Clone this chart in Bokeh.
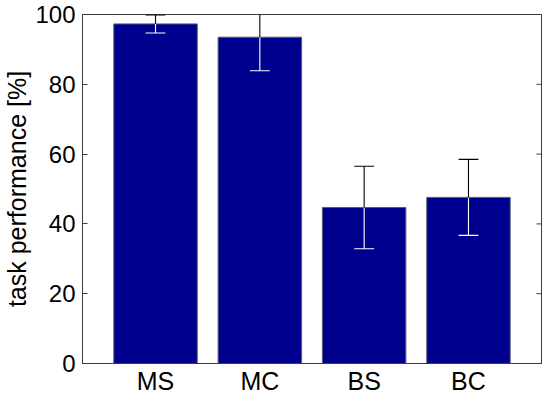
import math
from bokeh.plotting import figure
from bokeh.models import Range1d, FixedTicker
from bokeh.embed import file_html
from bokeh.resources import INLINE

categories = ["MS", "MC", "BS", "BC"]
means = [97.3, 93.5, 44.7, 47.6]
errors = [2.6, 9.6, 11.8, 10.9]
y_ticks = [0, 20, 40, 60, 80, 100]

xs = [i + 1 for i in range(len(categories))]
cap = 0.095
bar_width = 0.8
x_lo, x_hi = 0.3, 4.7

FONT = "Liberation Sans"
AX = "#3c3c3c"

p = figure(frame_width=459, frame_height=349, output_backend="svg", toolbar_location=None,
           x_range=Range1d(x_lo, x_hi), y_range=Range1d(0, 100),
           min_border_left=80, min_border_right=1, min_border_top=14, min_border_bottom=0)
p.xgrid.visible = False
p.ygrid.visible = False
p.outline_line_color = AX
p.outline_line_width = 1
p.background_fill_color = "white"
p.border_fill_color = "white"

p.vbar(x=xs, top=means, bottom=0, width=bar_width, fill_color="#00008F",
       line_color="#5a5a6e", line_width=1)

lo = [m - e for m, e in zip(means, errors)]
hi = [m + e for m, e in zip(means, errors)]
# lower part (inside bar) white, upper part black
p.segment(x0=xs, y0=lo, x1=xs, y1=means, line_color="white", line_width=1.1)
p.segment(x0=[x - cap for x in xs], y0=lo, x1=[x + cap for x in xs], y1=lo,
          line_color="white", line_width=1.1)
p.segment(x0=xs, y0=means, x1=xs, y1=hi, line_color="black", line_width=1.1)
p.segment(x0=[x - cap for x in xs], y0=hi, x1=[x + cap for x in xs], y1=hi,
          line_color="black", line_width=1.1)

# mirrored inward ticks on the right edge
p.ray(x=[x_hi] * len(y_ticks), y=y_ticks, length=5, length_units="screen",
      angle=math.pi, line_color=AX, line_width=1)

# x axis
p.xaxis.ticker = FixedTicker(ticks=xs)
p.xaxis.major_label_overrides = {x: c for x, c in zip(xs, categories)}
p.xaxis.major_tick_in = 0
p.xaxis.major_tick_out = 0
p.xaxis.minor_tick_line_color = None
p.xaxis.axis_line_color = AX
p.xaxis.major_label_text_font = FONT
p.xaxis.major_label_text_font_size = "25px"
p.xaxis.major_label_text_color = "black"
p.xaxis.major_label_standoff = 3

# y axis
p.yaxis.ticker = FixedTicker(ticks=y_ticks)
p.yaxis.major_tick_in = 5
p.yaxis.major_tick_out = 0
p.yaxis.minor_tick_line_color = None
p.yaxis.axis_line_color = AX
p.yaxis.major_tick_line_color = AX
p.yaxis.major_label_text_font = FONT
p.yaxis.major_label_text_font_size = "24px"
p.yaxis.major_label_text_color = "black"
p.yaxis.major_label_standoff = 7
p.yaxis.axis_label = "task performance [%]"
p.yaxis.axis_label_text_font = FONT
p.yaxis.axis_label_text_font_size = "25px"
p.yaxis.axis_label_text_font_style = "normal"
p.yaxis.axis_label_text_color = "black"
p.yaxis.axis_label_standoff = 1

open("out.html", "w").write(file_html(p, INLINE))
